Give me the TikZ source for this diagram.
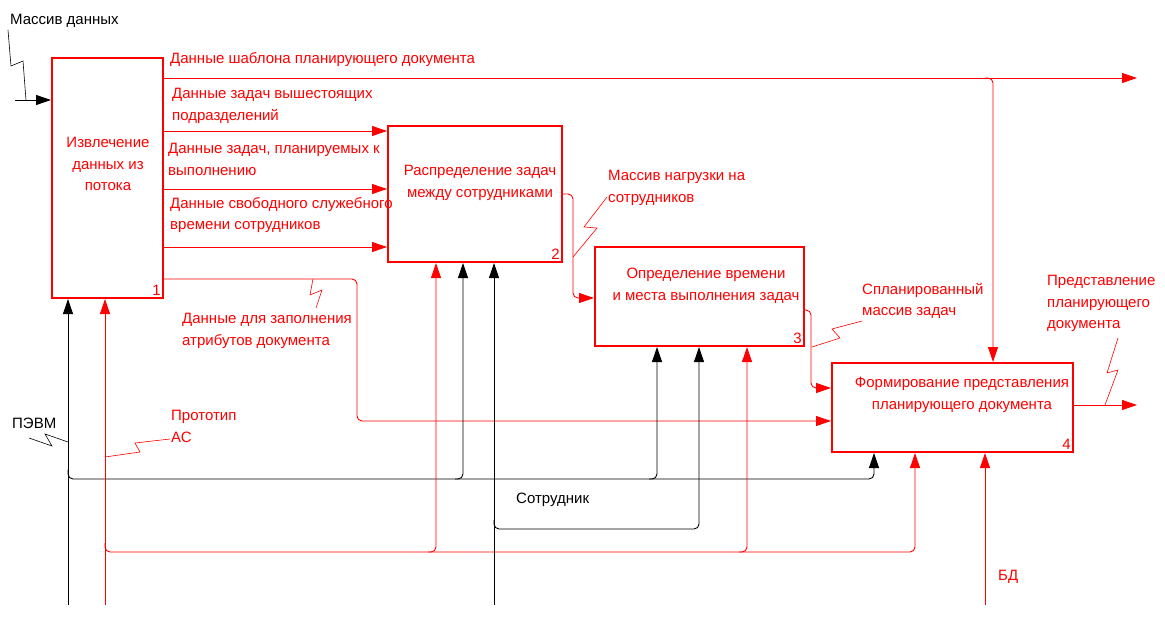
\documentclass[tikz,border=0pt]{standalone}
\usepackage{fontspec}
\setmainfont{Liberation Sans}
\usetikzlibrary{arrows.meta}
\newcommand{\lblfont}{\fontsize{15}{21.5}\selectfont}
\tikzset{
    func/.style = {rectangle, draw=red, line width=2pt, inner sep=0pt},
    functext/.style = {text=red, align=center, inner sep=0pt, anchor=north, font=\lblfont},
    lbl/.style = {text=red, align=left, inner sep=0pt, anchor=north west, font=\lblfont},
    blbl/.style = {lbl, text=black},
    num/.style = {text=red, inner sep=3pt, anchor=south east, font=\lblfont},
    flow/.style = {draw=red, line width=0.9pt, -{Triangle[length=15pt,width=10pt]}},
    bflow/.style = {flow, draw=black},
    elbow/.style = {rounded corners=5pt},
    squig/.style = {draw=red, line width=0.6pt},
    bsquig/.style = {squig, draw=black}
}

\begin{document}
\begin{tikzpicture}[x=1pt, y=-1pt]
\useasboundingbox (0,0) rectangle (1165,618);

% function blocks
\node (extract) [func, minimum width=111pt, minimum height=240pt] at (107.5,178) {};
\node (distrib) [func, minimum width=174pt, minimum height=136pt] at (475,194) {};
\node (timing) [func, minimum width=209pt, minimum height=99pt] at (699.5,296.5) {};
\node (present) [func, minimum width=241pt, minimum height=89pt] at (952.5,407.5) {};

\node (extract-t) [functext] at (108,137) {Извлечение\\данных из\\потока};
\node (distrib-t) [functext] at (480,165) {Распределение задач\\между сотрудниками};
\node (timing-t) [functext] at (706,268) {Определение времени\\и места выполнения задач};
\node (present-t) [functext] at (962,377) {Формирование представления\\планирующего документа};

\node (n1) [num] at (extract.south east) {1};
\node (n2) [num] at (distrib.south east) {2};
\node (n3) [num] at (timing.south east) {3};
\node (n4) [num] at (present.south east) {4};

% input
\coordinate (din) at (15,100);
\node (din-l) [blbl] at (10,14) {Массив данных};
\draw [bflow] (din) -- (din -| extract.west);
\draw [bsquig] (8,30) -- (11,66) -- (23,61) -- (26,100);

% outputs of block 1
\coordinate (tpl-out) at (1137,78);
\coordinate (tpl-br) at (993,78);
\node (tpl-l) [lbl] at (170,52) {Данные шаблона планирующего документа};
\draw [flow] (extract.east |- tpl-out) -- (tpl-out);
\draw [flow, elbow] ([xshift=-8pt]tpl-br) -- (tpl-br) -- (tpl-br |- present.north);

\node (up-l) [lbl] at (172,88) {Данные задач вышестоящих\\подразделений};
\node (plan-l) [lbl] at (168,143) {Данные задач, планируемых к\\выполнению};
\node (free-l) [lbl] at (170,197) {Данные свободного служебного\\времени сотрудников};
\foreach \y in {131,189,247}
    \draw [flow] (extract.east |- 0,\y) -- (distrib.west |- 0,\y);

\node (attr-l) [lbl] at (182,313) {Данные для заполнения\\атрибутов документа};
\draw [flow, elbow] (extract.east |- 0,279) -- (357,279) -- (357,421) -- (present.west |- 0,421);
\draw [squig] (313,279) -- (310,295) -- (322,290) -- (316,308);

% block 2 -> block 3 -> block 4
\node (load-l) [lbl] at (608,170) {Массив нагрузки на\\сотрудников};
\draw [flow, elbow] (distrib.east |- 0,194) -- (573,194) -- (573,298) -- (timing.west |- 0,298);
\draw [squig] (573,257) -- (597,228) -- (584,227) -- (607,197);

\node (sched-l) [lbl] at (862,283) {Спланированный\\массив задач};
\draw [flow, elbow] (timing.east |- 0,310) -- (811,310) -- (811,388) -- (present.west |- 0,388);
\draw [squig] (812,347) -- (840,338) -- (832,329) -- (862,321);

% output
\coordinate (out) at (1137,405);
\node (out-l) [lbl] at (1047,275) {Представление\\планирующего\\документа};
\draw [flow] (present.east |- out) -- (out);
\draw [squig] (1105,405) -- (1118,370) -- (1107,373) -- (1118,338);

% mechanisms
\coordinate (pevm) at (68,605);
\node (pevm-l) [blbl] at (12,418) {ПЭВМ};
\draw [bflow] (pevm) -- (pevm |- extract.south);
\draw [bflow, elbow] (68,470) -- (68,479) -- (874,479) -- (present.south -| 874,0);
\foreach \x/\b in {463/distrib, 657/timing}
    \draw [bflow, elbow] (\x-8,479) -- (\x,479) -- (\b.south -| \x,0);
\draw [bsquig] (29,438) -- (52,446) -- (45,434) -- (68,442);

\coordinate (proto) at (105,605);
\node (proto-l) [lbl] at (171,410) {Прототип\\АС};
\draw [flow] (proto) -- (proto |- extract.south);
\draw [flow, elbow] (105,543) -- (105,552) -- (915,552) -- (present.south -| 915,0);
\foreach \x/\b in {436/distrib, 747/timing}
    \draw [flow, elbow] (\x-8,552) -- (\x,552) -- (\b.south -| \x,0);
\draw [squig] (105,457) -- (140,452) -- (135,443) -- (170,439);

\coordinate (empl) at (494,605);
\node (empl-l) [blbl] at (516,493) {Сотрудник};
\draw [bflow] (empl) -- (empl |- distrib.south);
\draw [bflow, elbow] (494,520) -- (494,529) -- (699,529) -- (timing.south -| 699,0);

\coordinate (db) at (985,605);
\node (db-l) [lbl] at (998,570) {БД};
\draw [flow] (db) -- (db |- present.south);
\end{tikzpicture}
\end{document}
